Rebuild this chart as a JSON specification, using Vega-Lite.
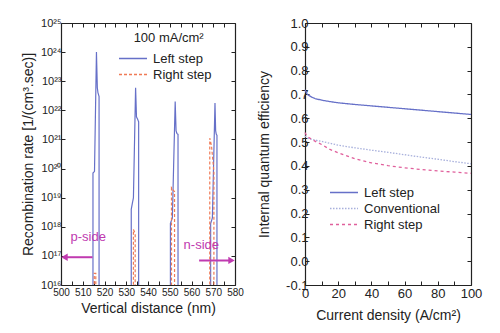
{
  "$schema": "https://vega.github.io/schema/vega-lite/v6.json",
  "padding": {"left": 21, "top": 17, "right": 5, "bottom": 5},
  "background": "white",
  "spacing": 70,
  "bounds": "flush",
  "config": {
    "font": "Liberation Sans",
    "view": {"stroke": null},
    "axis": {"grid": false, "domainColor": "#222", "tickColor": "#222", "labelColor": "#222", "titleColor": "#222", "tickSize": -4, "titleFontWeight": "normal", "titleFontSize": 14, "domainWidth": 1.2},
    "legend": {"symbolType": "stroke", "symbolSize": 784, "symbolStrokeWidth": 1.3, "labelFontSize": 13, "labelColor": "#222", "labelOffset": 5, "padding": 0, "rowPadding": 1, "clipHeight": 15, "title": null}
  },
  "datasets": {
    "rec": [
      {"s": "Left step", "o": 1, "x": 514.7, "y": 1e15},
      {"s": "Left step", "o": 2, "x": 514.7, "y": 7e19},
      {"s": "Left step", "o": 3, "x": 515.4, "y": 8e19},
      {"s": "Left step", "o": 4, "x": 516.3, "y": 1e24},
      {"s": "Left step", "o": 5, "x": 516.7, "y": 6e22},
      {"s": "Left step", "o": 6, "x": 517.0, "y": 4e22},
      {"s": "Left step", "o": 7, "x": 517.5, "y": 3e22},
      {"s": "Left step", "o": 8, "x": 517.5, "y": 1e15},
      {"s": "Left step", "o": 9, "x": 532.3, "y": 1e15},
      {"s": "Left step", "o": 10, "x": 532.3, "y": 4e18},
      {"s": "Left step", "o": 11, "x": 533.3, "y": 1e19},
      {"s": "Left step", "o": 12, "x": 534.3, "y": 6e22},
      {"s": "Left step", "o": 13, "x": 534.7, "y": 6e21},
      {"s": "Left step", "o": 14, "x": 535.2, "y": 5e21},
      {"s": "Left step", "o": 15, "x": 535.7, "y": 4e21},
      {"s": "Left step", "o": 16, "x": 535.7, "y": 1e15},
      {"s": "Left step", "o": 17, "x": 550.3, "y": 1e15},
      {"s": "Left step", "o": 18, "x": 550.3, "y": 1.3e18},
      {"s": "Left step", "o": 19, "x": 551.2, "y": 2e18},
      {"s": "Left step", "o": 20, "x": 552.5, "y": 2e22},
      {"s": "Left step", "o": 21, "x": 552.9, "y": 2e21},
      {"s": "Left step", "o": 22, "x": 553.3, "y": 1.6e21},
      {"s": "Left step", "o": 23, "x": 553.8, "y": 1.5e21},
      {"s": "Left step", "o": 24, "x": 553.8, "y": 1e15},
      {"s": "Left step", "o": 25, "x": 568.8, "y": 1e15},
      {"s": "Left step", "o": 26, "x": 568.8, "y": 1.3e18},
      {"s": "Left step", "o": 27, "x": 569.6, "y": 2e18},
      {"s": "Left step", "o": 28, "x": 570.8, "y": 1.8e22},
      {"s": "Left step", "o": 29, "x": 571.1, "y": 2e21},
      {"s": "Left step", "o": 30, "x": 571.4, "y": 1.5e21},
      {"s": "Left step", "o": 31, "x": 571.7, "y": 1.4e21},
      {"s": "Left step", "o": 32, "x": 571.7, "y": 1e15},
      {"s": "Right step", "o": 1, "x": 515.3, "y": 1e15},
      {"s": "Right step", "o": 2, "x": 515.3, "y": 2.5e16},
      {"s": "Right step", "o": 3, "x": 516.0, "y": 2.5e16},
      {"s": "Right step", "o": 4, "x": 516.0, "y": 1e15},
      {"s": "Right step", "o": 5, "x": 533.3, "y": 1e15},
      {"s": "Right step", "o": 6, "x": 533.3, "y": 8e17},
      {"s": "Right step", "o": 7, "x": 534.1, "y": 6e17},
      {"s": "Right step", "o": 8, "x": 534.1, "y": 1e15},
      {"s": "Right step", "o": 9, "x": 550.8, "y": 1e15},
      {"s": "Right step", "o": 10, "x": 550.8, "y": 2.2e19},
      {"s": "Right step", "o": 11, "x": 552.2, "y": 1.6e19},
      {"s": "Right step", "o": 12, "x": 552.2, "y": 1e15},
      {"s": "Right step", "o": 13, "x": 568.4, "y": 1e15},
      {"s": "Right step", "o": 14, "x": 568.4, "y": 1.1e21},
      {"s": "Right step", "o": 15, "x": 569.2, "y": 6e20},
      {"s": "Right step", "o": 16, "x": 570.3, "y": 8e19},
      {"s": "Right step", "o": 17, "x": 570.3, "y": 1e15}
    ],
    "arrows": [
      {"side": "p", "x": 514.5, "x2": 501.6, "y": 9e16, "dir": "left"},
      {"side": "n", "x": 563.5, "x2": 578.4, "y": 7e16, "dir": "right"}
    ],
    "sides": [
      {"t": "p-side", "x": 512.5, "y": 4.5e17},
      {"t": "n-side", "x": 564.5, "y": 2.3e17}
    ],
    "cond": [
      {"t": "100 mA/cm²", "x": 549.5, "y": 3e24}
    ],
    "iqe": [
      {"s": "Left step", "x": 0, "y": 0.72},
      {"s": "Left step", "x": 1, "y": 0.705},
      {"s": "Left step", "x": 2, "y": 0.697},
      {"s": "Left step", "x": 4, "y": 0.689},
      {"s": "Left step", "x": 6, "y": 0.683},
      {"s": "Left step", "x": 10, "y": 0.676},
      {"s": "Left step", "x": 15, "y": 0.67},
      {"s": "Left step", "x": 20, "y": 0.665},
      {"s": "Left step", "x": 30, "y": 0.658},
      {"s": "Left step", "x": 40, "y": 0.652},
      {"s": "Left step", "x": 50, "y": 0.646},
      {"s": "Left step", "x": 60, "y": 0.64},
      {"s": "Left step", "x": 70, "y": 0.634},
      {"s": "Left step", "x": 80, "y": 0.628},
      {"s": "Left step", "x": 90, "y": 0.622},
      {"s": "Left step", "x": 100, "y": 0.616},
      {"s": "Conventional", "x": 0, "y": 0.525},
      {"s": "Conventional", "x": 2, "y": 0.515},
      {"s": "Conventional", "x": 5, "y": 0.51},
      {"s": "Conventional", "x": 10, "y": 0.503},
      {"s": "Conventional", "x": 20, "y": 0.487},
      {"s": "Conventional", "x": 30, "y": 0.476},
      {"s": "Conventional", "x": 40, "y": 0.466},
      {"s": "Conventional", "x": 50, "y": 0.457},
      {"s": "Conventional", "x": 60, "y": 0.447},
      {"s": "Conventional", "x": 70, "y": 0.437},
      {"s": "Conventional", "x": 80, "y": 0.428},
      {"s": "Conventional", "x": 90, "y": 0.418},
      {"s": "Conventional", "x": 100, "y": 0.409},
      {"s": "Right step", "x": 0, "y": 0.54},
      {"s": "Right step", "x": 1, "y": 0.527},
      {"s": "Right step", "x": 2, "y": 0.52},
      {"s": "Right step", "x": 4, "y": 0.512},
      {"s": "Right step", "x": 7, "y": 0.5},
      {"s": "Right step", "x": 10, "y": 0.49},
      {"s": "Right step", "x": 15, "y": 0.469},
      {"s": "Right step", "x": 20, "y": 0.455},
      {"s": "Right step", "x": 30, "y": 0.43},
      {"s": "Right step", "x": 40, "y": 0.413},
      {"s": "Right step", "x": 50, "y": 0.401},
      {"s": "Right step", "x": 60, "y": 0.392},
      {"s": "Right step", "x": 70, "y": 0.385},
      {"s": "Right step", "x": 80, "y": 0.379},
      {"s": "Right step", "x": 90, "y": 0.374},
      {"s": "Right step", "x": 100, "y": 0.369}
    ]
  },
  "resolve": {"scale": {"color": "independent", "strokeDash": "independent"}, "legend": {"color": "independent", "strokeDash": "independent"}},
  "hconcat": [
    {
      "width": 174,
      "height": 262,
      "resolve": {"axis": {"x": "independent", "y": "independent"}},
      "layer": [
        {
          "data": {"name": "rec"},
          "mark": {"type": "line", "clip": true, "strokeWidth": 1.2},
          "encoding": {
            "x": {"field": "x", "type": "quantitative", "scale": {"domain": [500, 580], "nice": false, "zero": false},
                  "axis": {"orient": "bottom", "title": "Vertical distance (nm)", "values": [500,505,510,515,520,525,530,535,540,545,550,555,560,565,570,575,580], "labelExpr": "datum.value % 10 == 0 ? datum.label : ''", "labelFontSize": 10, "labelPadding": 6, "titlePadding": 4, "labelFlush": false}},
            "y": {"field": "y", "type": "quantitative", "scale": {"type": "log", "domain": [1e16, 1e25], "nice": false},
                  "axis": {"orient": "left", "title": "Recombination rate [1/(cm³.sec)]", "values": [1e16,1e17,1e18,1e19,1e20,1e21,1e22,1e23,1e24,1e25], "labelExpr": "'10' + substring('⁰¹²³⁴⁵⁶⁷⁸⁹', floor(round(log(datum.value)/LN10)/10), floor(round(log(datum.value)/LN10)/10)+1) + substring('⁰¹²³⁴⁵⁶⁷⁸⁹', round(log(datum.value)/LN10)%10, round(log(datum.value)/LN10)%10+1)", "labelFontSize": 11, "labelPadding": 4, "titlePadding": 5}},
            "color": {"field": "s", "type": "nominal", "scale": {"domain": ["Left step", "Right step"], "range": ["#6670C8", "#F07A55"]},
                      "legend": {"orient": "none", "legendX": 57, "legendY": 28}},
            "strokeDash": {"field": "s", "type": "nominal", "scale": {"domain": ["Left step", "Right step"], "range": [[1, 0], [3, 2]]}},
            "order": {"field": "o", "type": "quantitative"}
          }
        },
        {
          "data": {"name": "arrows"},
          "mark": {"type": "rule", "color": "#C03AB0", "strokeWidth": 2},
          "encoding": {
            "x": {"field": "x", "type": "quantitative", "axis": {"orient": "top", "title": null, "labels": false, "values": [500,505,510,515,520,525,530,535,540,545,550,555,560,565,570,575,580]}},
            "x2": {"field": "x2"},
            "y": {"field": "y", "type": "quantitative", "axis": {"orient": "right", "title": null, "labels": false, "values": [1e16,1e17,1e18,1e19,1e20,1e21,1e22,1e23,1e24,1e25]}}
          }
        },
        {
          "data": {"name": "arrows"},
          "mark": {"type": "point", "filled": true, "color": "#C03AB0", "size": 55, "opacity": 1},
          "encoding": {
            "x": {"field": "x2", "type": "quantitative", "axis": null},
            "y": {"field": "y", "type": "quantitative", "axis": null},
            "shape": {"field": "dir", "type": "nominal", "scale": {"domain": ["left", "right"], "range": ["triangle-left", "triangle-right"]}, "legend": null}
          }
        },
        {
          "data": {"name": "sides"},
          "mark": {"type": "text", "fontSize": 13, "baseline": "middle", "align": "center", "color": "#C03AB0"},
          "encoding": {
            "x": {"field": "x", "type": "quantitative", "axis": null},
            "y": {"field": "y", "type": "quantitative", "axis": null},
            "text": {"field": "t"}
          }
        },
        {
          "data": {"name": "cond"},
          "mark": {"type": "text", "fontSize": 13, "baseline": "middle", "align": "center", "color": "#222222"},
          "encoding": {
            "x": {"field": "x", "type": "quantitative", "axis": null},
            "y": {"field": "y", "type": "quantitative", "axis": null},
            "text": {"field": "t"}
          }
        }
      ]
    },
    {
      "width": 166,
      "height": 262,
      "data": {"name": "iqe"},
      "resolve": {"axis": {"x": "independent", "y": "independent"}},
      "layer": [
        {
          "mark": {"type": "line", "strokeWidth": 1.3},
          "encoding": {
            "x": {"field": "x", "type": "quantitative", "scale": {"domain": [0, 100], "nice": false},
                  "axis": {"orient": "bottom", "title": "Current density (A/cm²)", "values": [0,10,20,30,40,50,60,70,80,90,100], "labelExpr": "datum.value % 20 == 0 ? datum.label : ''", "labelFontSize": 13, "labelPadding": 6, "titlePadding": 8, "labelFlush": false}},
            "y": {"field": "y", "type": "quantitative", "scale": {"domain": [-0.1, 1.0], "nice": false, "zero": false},
                  "axis": {"orient": "left", "title": "Internal quantum efficiency", "values": [-0.1,0,0.1,0.2,0.3,0.4,0.5,0.6,0.7,0.8,0.9,1.0], "labelExpr": "replace(format(datum.value, '.1f'), '−', '-')", "labelFontSize": 13, "labelPadding": 1, "titlePadding": 14}},
            "color": {"field": "s", "type": "nominal", "scale": {"domain": ["Left step", "Conventional", "Right step"], "range": ["#6670C8", "#A8B0DC", "#E0609C"]},
                      "legend": {"orient": "none", "legendX": 24, "legendY": 162}},
            "strokeDash": {"field": "s", "type": "nominal", "scale": {"domain": ["Left step", "Conventional", "Right step"], "range": [[1, 0], [1.5, 1.5], [3, 3]]}}
          }
        },
        {
          "mark": {"type": "point", "opacity": 0},
          "encoding": {
            "x": {"field": "x", "type": "quantitative", "axis": {"orient": "top", "title": null, "labels": false, "values": [0,10,20,30,40,50,60,70,80,90,100]}},
            "y": {"field": "y", "type": "quantitative", "axis": {"orient": "right", "title": null, "labels": false, "values": [-0.1,0,0.1,0.2,0.3,0.4,0.5,0.6,0.7,0.8,0.9,1.0]}}
          }
        }
      ]
    }
  ]
}
